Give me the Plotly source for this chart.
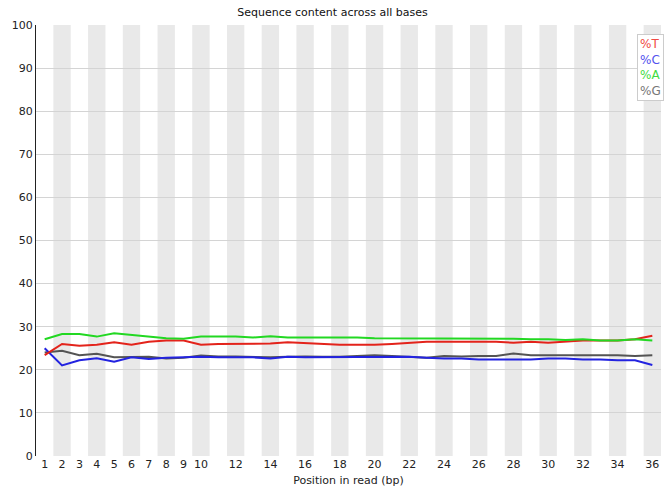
import plotly.graph_objects as go

# Per-base composition (%) for positions 1..36
positions = list(range(1, 37))
pct_T = [23.4, 26.0, 25.6, 25.8, 26.4, 25.8, 26.5, 26.8, 26.8, 25.8,
         26.0, 26.0, 26.1, 26.1, 26.4, 26.2, 26.0, 25.8, 25.8, 25.8,
         26.0, 26.2, 26.5, 26.5, 26.5, 26.5, 26.5, 26.3, 26.5, 26.3,
         26.6, 26.8, 26.8, 26.8, 27.1, 27.9]
pct_C = [25.0, 21.0, 22.2, 22.7, 21.9, 22.9, 22.5, 22.8, 22.9, 23.0,
         22.9, 22.9, 22.9, 22.6, 23.0, 22.9, 22.9, 22.9, 22.9, 23.0,
         23.0, 23.0, 22.8, 22.6, 22.6, 22.4, 22.4, 22.4, 22.4, 22.6,
         22.6, 22.4, 22.4, 22.2, 22.2, 21.1]
pct_A = [27.1, 28.3, 28.3, 27.7, 28.5, 28.1, 27.7, 27.3, 27.2, 27.7,
         27.7, 27.7, 27.5, 27.8, 27.5, 27.5, 27.5, 27.5, 27.5, 27.3,
         27.3, 27.3, 27.3, 27.3, 27.3, 27.3, 27.3, 27.2, 27.1, 27.1,
         26.9, 27.1, 26.8, 26.8, 27.1, 26.8]
pct_G = [24.0, 24.4, 23.4, 23.7, 22.9, 22.9, 23.0, 22.6, 22.8, 23.3,
         23.1, 23.1, 23.0, 22.9, 23.0, 23.1, 23.0, 23.0, 23.2, 23.4,
         23.2, 23.0, 22.8, 23.2, 23.1, 23.2, 23.2, 23.8, 23.4, 23.4,
         23.4, 23.4, 23.4, 23.4, 23.2, 23.4]

x_tickvals = list(range(1, 11)) + list(range(12, 37, 2))
y_tickvals = list(range(0, 101, 10))

# name, values, line colour, legend text colour
series = [
    ("%T", pct_T, "#e3231b", "#f04a44"),
    ("%C", pct_C, "#2323e0", "#5252ee"),
    ("%A", pct_A, "#22d822", "#3fdc3f"),
    ("%G", pct_G, "#545454", "#777777"),
]

fig = go.Figure()

# Alternating shaded columns on even positions
shapes = []
for p in positions:
    if p % 2 == 0:
        shapes.append(dict(type="rect", xref="x", yref="y",
                           x0=p - 0.5, x1=p + 0.5, y0=0, y1=100,
                           fillcolor="#e9e9e9", line=dict(width=0),
                           layer="below"))

# Draw G first so the coloured lines sit on top of it
for name, vals, color, _ in [series[3], series[1], series[0], series[2]]:
    fig.add_trace(go.Scatter(x=positions, y=vals, mode="lines", name=name,
                             line=dict(color=color, width=2),
                             showlegend=False))

legend_text = "<br>".join(
    f"<span style='color:{tc}'>{n}</span>" for n, _, _, tc in series)

fig.update_layout(
    width=665, height=497,
    margin=dict(l=36, r=4, t=25, b=41),
    plot_bgcolor="white", paper_bgcolor="white",
    font=dict(family="DejaVu Sans", size=11, color="#222"),
    title=dict(text="Sequence content across all bases", x=0.5,
               xanchor="center", y=0.975, yanchor="middle",
               font=dict(size=11, color="#111")),
    shapes=shapes,
    annotations=[dict(text=legend_text, xref="paper", yref="paper",
                      x=1.0, y=1.0, xanchor="right", yanchor="top",
                      xshift=3, yshift=-9,
                      showarrow=False, align="left",
                      bgcolor="white", bordercolor="#cccccc", borderwidth=1,
                      borderpad=2, font=dict(size=12))],
    xaxis=dict(range=[0.5, 36.5], tickvals=x_tickvals,
               ticktext=[str(v) for v in x_tickvals],
               showgrid=False, zeroline=False, showline=False,
               ticks="", ticklen=0,
               title=dict(text="Position in read (bp)", standoff=6,
                          font=dict(size=11))),
    yaxis=dict(range=[0, 100], tickvals=y_tickvals,
               showgrid=True, gridcolor="#d4d4d4", gridwidth=1,
               zeroline=False, showline=True, linecolor="#222",
               linewidth=1, ticks="", ticklen=0),
)

fig.write_html("out.html")
